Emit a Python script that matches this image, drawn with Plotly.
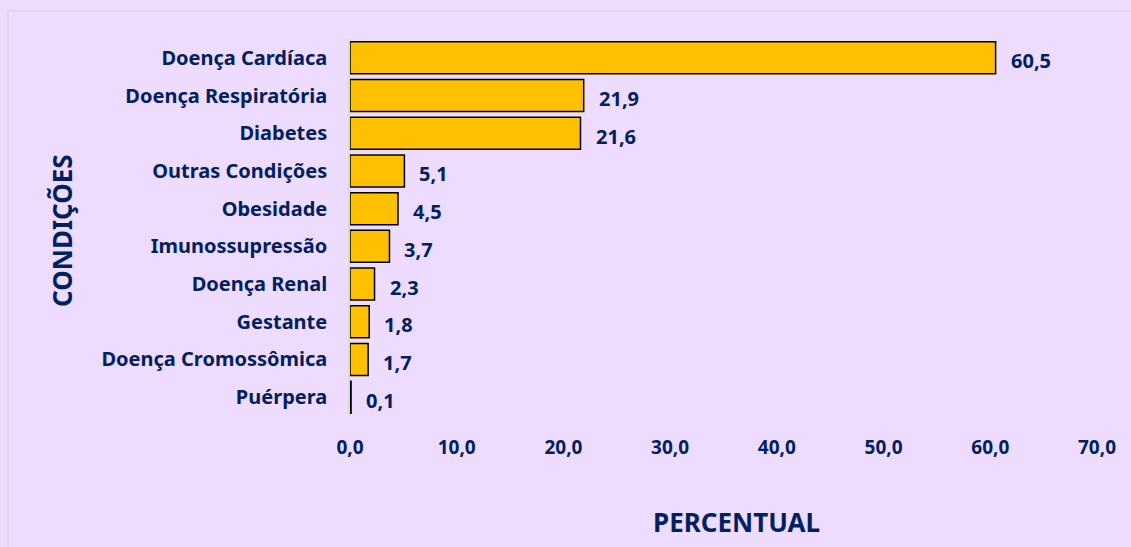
import plotly.graph_objects as go

categories = ["Doença Cardíaca", "Doença Respiratória", "Diabetes", "Outras Condições",
              "Obesidade", "Imunossupressão", "Doença Renal", "Gestante",
              "Doença Cromossômica", "Puérpera"]
values = [60.5, 21.9, 21.6, 5.1, 4.5, 3.7, 2.3, 1.8, 1.7, 0.1]
x_ticks = [0, 10, 20, 30, 40, 50, 60, 70]

NAVY = "#002060"
FONT = "Noto Sans"

fig = go.Figure()
fig.add_trace(go.Bar(
    y=categories, x=values, orientation="h",
    marker=dict(color="#FFC000", line=dict(color="#000000", width=1.5)),
    hoverinfo="skip",
))

for c, v in zip(categories, values):
    fig.add_annotation(x=v, y=c, xref="x", yref="y", text=f"<b>{v:.1f}".replace(".", ",") + "</b>",
                       showarrow=False, xanchor="left", xshift=13, yshift=-3,
                       font=dict(family=FONT, size=20, color=NAVY))

W, H = 1131, 547
L, R, T, B = 350, 34, 39, 131
pw, ph = W - L - R, H - T - B

fig.add_shape(type="rect", xref="paper", yref="paper",
              x0=(8 - L) / pw, x1=(W + 5 - L) / pw,
              y0=-(H + 5 - (T + ph)) / ph, y1=(T + ph - 11) / ph,
              fillcolor="#EEDCFF", line=dict(color="#DCD6E0", width=1.5), layer="below")

fig.add_annotation(xref="paper", yref="paper", x=(62 - L) / pw, y=(T + ph - 231) / ph,
                   xanchor="center", yanchor="middle",
                   text="<b>CONDIÇÕES</b>", textangle=-90, showarrow=False,
                   font=dict(family=FONT, size=26, color=NAVY))
fig.add_annotation(xref="paper", yref="paper", x=(736 - L) / pw, y=-(522 - T - ph) / ph,
                   xanchor="center", yanchor="middle",
                   text="<b>PERCENTUAL</b>", showarrow=False,
                   font=dict(family=FONT, size=26, color=NAVY))

fig.update_layout(
    width=W, height=H,
    margin=dict(l=L, r=R, t=T, b=B, pad=0),
    paper_bgcolor="#F0DCFD", plot_bgcolor="rgba(0,0,0,0)",
    separators=",.",
    bargap=0.15,
    showlegend=False,
    font=dict(family=FONT, color=NAVY),
    xaxis=dict(range=[0, 70], tickvals=x_ticks, tickformat=".1f", showgrid=False,
               zeroline=False, showline=False, ticks="",
               tickfont=dict(family=FONT, size=19, color=NAVY, weight="bold"),
               ticklabelstandoff=18),
    yaxis=dict(autorange="reversed", showgrid=False, zeroline=False,
               showline=True, linecolor="#D9D9D9", linewidth=1.5, ticks="",
               tickfont=dict(family=FONT, size=20, color=NAVY, weight="bold"),
               ticklabelstandoff=17),
)

fig.write_html("out.html", config={"displayModeBar": False},
               post_script="document.body.style.margin='0';document.body.style.background='#F0DCFD';")
